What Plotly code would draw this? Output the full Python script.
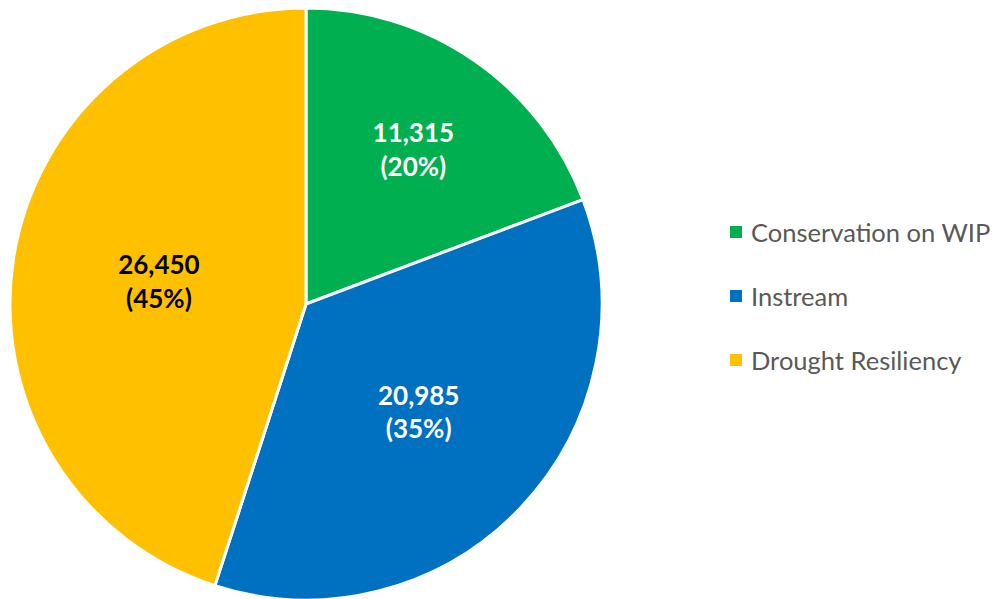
import plotly.graph_objects as go

categories = ["Conservation on WIP", "Instream", "Drought Resiliency"]
values = [11315, 20985, 26450]
pct_labels = ["20%", "35%", "45%"]
colors = ["#00B050", "#0070C0", "#FFC000"]
text_colors = ["#FFFFFF", "#FFFFFF", "#000000"]

W, H = 1005, 599
cx, r = 298, 296
top = 0

fig = go.Figure()
fig.add_trace(go.Pie(
    labels=categories,
    values=values,
    customdata=pct_labels,
    sort=False,
    direction="clockwise",
    rotation=0,
    marker=dict(colors=colors, line=dict(color="#FFFFFF", width=3)),
    texttemplate="<b>%{value:,}<br>(%{customdata})</b>",
    textposition="inside",
    insidetextorientation="horizontal",
    textfont=dict(family="Lato", size=26, color=text_colors),
    domain=dict(x=[(cx - r) / W, (cx + r) / W], y=[1 - (top + 2 * r) / H, 1 - top / H]),
    showlegend=False,
    hoverinfo="label+value",
))

# legend drawn as squares + text
legend_y = [224, 288, 352]
for name, col, py in zip(categories, colors, legend_y):
    fig.add_shape(type="rect", xref="paper", yref="paper",
                  x0=722 / W, x1=734 / W, y0=1 - (py + 6) / H, y1=1 - (py - 6) / H,
                  fillcolor=col, line=dict(width=0))
    fig.add_annotation(xref="paper", yref="paper", x=741 / W, y=1 - py / H,
                       text=name, showarrow=False, xanchor="left", yanchor="middle",
                       font=dict(family="Lato", size=25.5, color="#595959"))

fig.update_layout(
    width=W, height=H,
    margin=dict(l=0, r=0, t=0, b=0),
    paper_bgcolor="white", plot_bgcolor="white",
)
fig.write_html("out.html")
